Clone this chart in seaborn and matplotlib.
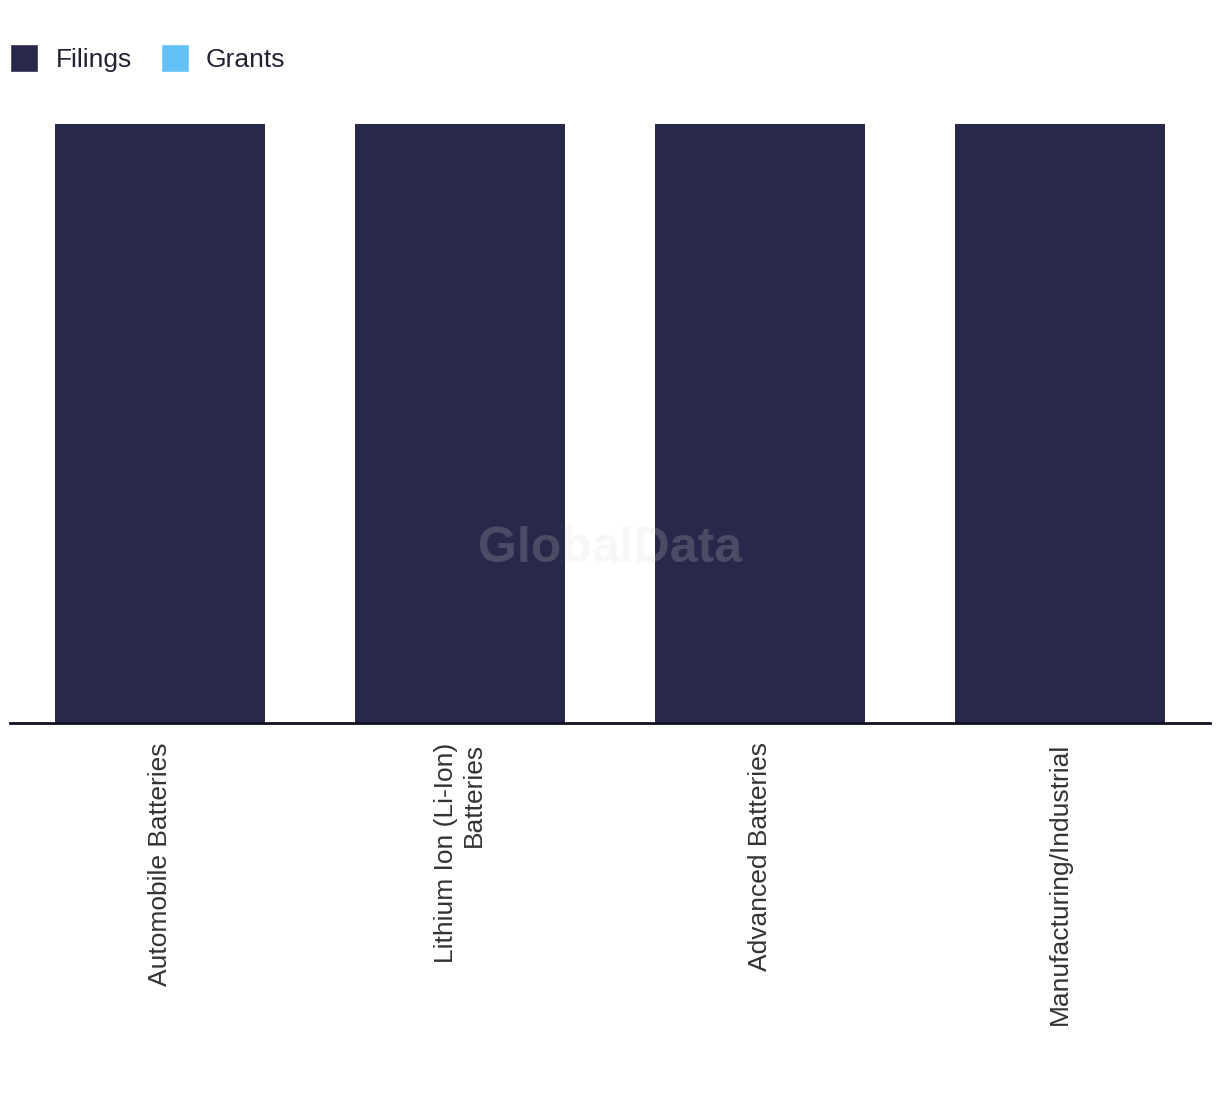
import numpy as np
import pandas as pd
import matplotlib
matplotlib.use("Agg")
import matplotlib.pyplot as plt
import seaborn as sns
from matplotlib.patches import Patch

# data (no value axis shown, all filings bars equal)
categories = ["Automobile Batteries", "Lithium Ion (Li-Ion)\nBatteries",
              "Advanced Batteries", "Manufacturing/Industrial"]
filings = [1, 1, 1, 1]
grants = [0, 0, 0, 0]

FILINGS_COLOR = "#28284A"
GRANTS_COLOR = "#63C1F8"

sns.set_style("white")
plt.rcParams["font.family"] = ["Liberation Sans", "DejaVu Sans"]

df = pd.DataFrame({"category": categories, "filings": filings, "grants": grants})

fig = plt.figure(figsize=(12.2, 10.94), dpi=100)
ax = fig.add_axes([10 / 1220, 1 - 723 / 1094, 1200 / 1220, (723 - 124) / 1094])

sns.barplot(data=df, x="category", y="filings", color=FILINGS_COLOR,
            width=0.7, saturation=1, linewidth=0, ax=ax)
sns.barplot(data=df, x="category", y="grants", color=GRANTS_COLOR,
            width=0.7, saturation=1, linewidth=0, bottom=df["filings"], ax=ax)

ax.set_xlim(-0.5, len(categories) - 0.5)
ax.set_ylim(0, max(filings))
ax.set_xlabel("")
ax.set_ylabel("")
ax.set_yticks([])
for side in ["top", "left", "right"]:
    ax.spines[side].set_visible(False)
ax.spines["bottom"].set_color("#111122")
ax.spines["bottom"].set_linewidth(2)

ax.tick_params(axis="x", length=0, pad=14)
ax.set_xticks(range(len(categories)))
ax.set_xticklabels(categories, rotation=90, fontsize=19, color="#333333",
                   ha="center", va="top", multialignment="right")

# watermark
ax.text(0.5, 0.29, "GlobalData", transform=ax.transAxes, ha="center", va="center",
        fontsize=36, fontweight="bold", color="#d8d8d8", alpha=0.2, zorder=5)

handles = [Patch(facecolor=FILINGS_COLOR, label="Filings"),
           Patch(facecolor=GRANTS_COLOR, label="Grants")]
fig.legend(handles=handles, loc="upper left", bbox_to_anchor=(10 / 1220, 1 - 44 / 1094),
           ncol=2, frameon=False, fontsize=19, handlelength=1.07, handleheight=1.25,
           handletextpad=0.65, columnspacing=1.1, borderpad=0, borderaxespad=0,
           labelcolor="#222233")

fig.savefig("out.png", dpi=100)
